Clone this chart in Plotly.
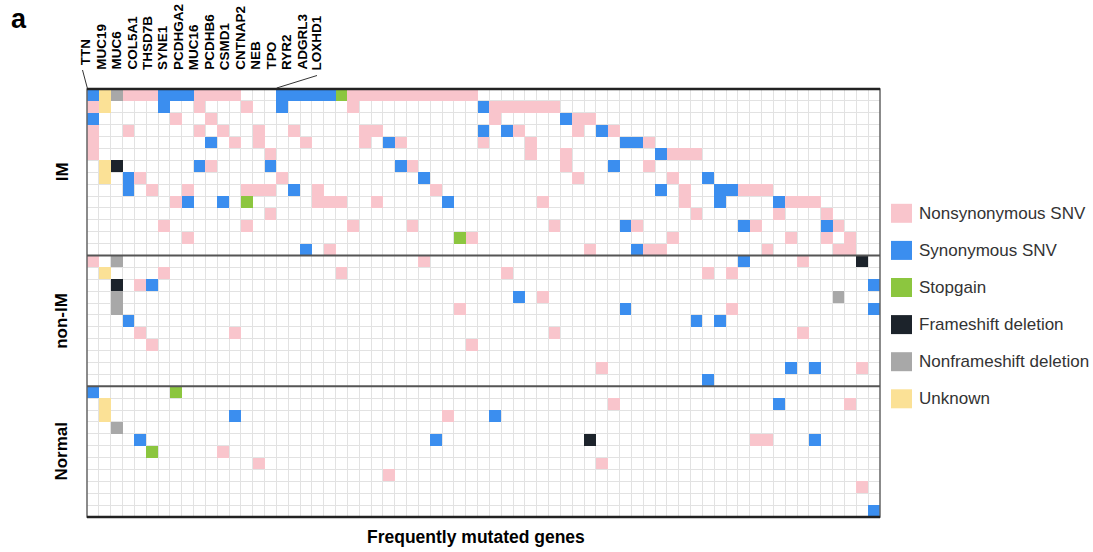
import plotly.graph_objects as go

# ---------------- data ----------------
labeled_genes = ["TTN", "MUC19", "MUC6", "COL5A1", "THSD7B", "SYNE1", "PCDHGA2", "MUC16",
                 "PCDHB6", "CSMD1", "CNTNAP2", "NEB", "TPO", "RYR2", "ADGRL3", "LOXHD1"]
n_genes = 67
groups = ["IM", "non-IM", "Normal"]

mutation_types = ["Nonsynonymous SNV", "Synonymous SNV", "Stopgain",
                  "Frameshift deletion", "Nonframeshift deletion", "Unknown"]
type_codes = ["N", "S", "G", "F", "D", "U"]
type_colors = ["#F9C5CC", "#3B8EEF", "#8CC63F", "#1C232B", "#A8A8A8", "#FBE196"]

# each row: "<col or col-range><type code>" tokens (columns = genes, 0-based)
im_rows = [
    "0S 1U 2D 3-5N 6-8S 9-12N 16-20S 21G 22-32N",
    "0N 1U 6S 9N 13N 16S 22N 33S 34-39N",
    "0S 7N 10N 34N 40S 41-42N",
    "0N 3N 9N 11N 14N 17N 23-24N 33S 35S 36N 41N 43S 44N",
    "0N 10S 12N 14N 18N 23N 25S 26N 33N 37N 45-46S 47N",
    "0N 15N 37N 40N 48S 49-51N",
    "1U 2F 9S 10N 15S 26S 27N 40N 44S 47N",
    "1U 3S 4N 16N 28S 41N 49N 52S",
    "3S 5N 8N 13-15N 17S 19N 29N 48S 50N 53-54S 55-57N",
    "7N 8S 11S 13G 19-21N 24N 30S 38N 50N 53S 58S 59-61N",
    "15N 51N 58N 62N",
    "6N 13N 22N 27N 39N 45S 46N 55S 56N 62S 63N",
    "8N 31G 32N 49N 59N 62N 64N",
    "18S 20N 42N 46S 47-48N 57N 63-64N",
]
nonim_rows = [
    "0N 2D 28N 55S 60N 65F",
    "1U 6N 21N 35N 52N 54N",
    "2F 4N 5S 66S",
    "2D 36S 38N 63D",
    "2D 31N 45S 54N 66S",
    "3S 51S 53S",
    "4N 12N 39N 60N",
    "5N 32N",
    "",
    "43N 59S 61S 65N",
    "52S",
]
normal_rows = [
    "0S 7G",
    "1U 44N 58S 64N",
    "1U 12S 30N 34S",
    "2D",
    "4S 29S 42F 56-57N 61S",
    "5G 11N",
    "14N 43N",
    "25N",
    "65N",
    "",
    "66S",
]

# ---------------- build matrix ----------------
all_rows = im_rows + nonim_rows + normal_rows
n_rows = len(all_rows)
z = [[None] * n_genes for _ in range(n_rows)]
for r, spec in enumerate(all_rows):
    for tok in spec.split():
        code = tok[-1]
        rng = tok[:-1]
        if "-" in rng:
            a, b = rng.split("-")
            cols = range(int(a), int(b) + 1)
        else:
            cols = [int(rng)]
        for c in cols:
            z[r][c] = type_codes.index(code) + 1

ntyp = len(type_colors)
colorscale = []
for i, col in enumerate(type_colors):
    colorscale.append([i / ntyp, col])
    colorscale.append([(i + 1) / ntyp, col])

W, H = 1093, 552
ML, MR, MT, MB = 87, 213, 89, 35
PW, PH = W - ML - MR, H - MT - MB


def xp(px):
    return (px - ML) / PW


def yp(py):
    return 1 - (py - MT) / PH


fig = go.Figure()
fig.add_trace(go.Heatmap(
    z=z, x=list(range(n_genes)), y=list(range(n_rows)),
    colorscale=colorscale, zmin=0.5, zmax=ntyp + 0.5,
    showscale=False, hoverinfo="skip", zsmooth=False,
))

FONT = "Liberation Sans, Arial, Helvetica, sans-serif"

fig.update_layout(
    width=W, height=H,
    margin=dict(l=ML, r=MR, t=MT, b=MB),
    paper_bgcolor="white", plot_bgcolor="white",
    showlegend=False,
    font=dict(family=FONT, color="black"),
    xaxis=dict(range=[-0.5, n_genes - 0.5], tick0=-0.5, dtick=1, showgrid=True,
               gridcolor="#E2E2E2", gridwidth=1, showticklabels=False, ticks="",
               zeroline=False, showline=False, fixedrange=True),
    yaxis=dict(range=[n_rows - 0.5, -0.5], tick0=-0.5, dtick=1, showgrid=True,
               gridcolor="#E2E2E2", gridwidth=1, showticklabels=False, ticks="",
               zeroline=False, showline=False, fixedrange=True),
)

shapes = []
# frame
shapes.append(dict(type="rect", xref="paper", yref="paper", x0=0, x1=1, y0=0, y1=1,
                   line=dict(color="#666666", width=1.5)))
shapes.append(dict(type="line", xref="paper", yref="paper", x0=0, x1=1, y0=1, y1=1,
                   line=dict(color="#222222", width=2.5)))
shapes.append(dict(type="line", xref="paper", yref="paper", x0=0, x1=1, y0=0, y1=0,
                   line=dict(color="#222222", width=2.5)))
# group separators
sizes = [len(im_rows), len(nonim_rows), len(normal_rows)]
acc = 0
centers = []
for s in sizes:
    centers.append(acc + (s - 1) / 2)
    acc += s
    if acc < n_rows:
        shapes.append(dict(type="line", xref="paper", yref="y", x0=0, x1=1,
                           y0=acc - 0.5, y1=acc - 0.5,
                           line=dict(color="#555555", width=2)))

# leader lines for gene labels
shapes.append(dict(type="line", xref="paper", yref="paper",
                   x0=xp(82.5), y0=yp(70), x1=xp(87.3), y1=yp(88),
                   line=dict(color="#333333", width=1)))
shapes.append(dict(type="line", xref="paper", yref="paper",
                   x0=xp(276.7), y0=yp(88), x1=xp(317), y1=yp(75.5),
                   line=dict(color="#333333", width=1)))

annotations = []
# gene labels
for i, g in enumerate(labeled_genes):
    px = 85.2 + i * 15.45
    bottom = 67 if i == 0 else 72
    annotations.append(dict(text=g, xref="paper", yref="paper", x=xp(px), y=yp(bottom),
                            xanchor="center", yanchor="bottom", textangle=-90,
                            showarrow=False,
                            font=dict(family=FONT, size=13.5, color="black", weight="bold")))

# group labels
for g, c in zip(groups, centers):
    annotations.append(dict(text=g, xref="paper", yref="y", x=xp(62), y=c,
                            xanchor="center", yanchor="middle", textangle=-90,
                            showarrow=False,
                            font=dict(family=FONT, size=17, color="black", weight="bold")))

# x title
annotations.append(dict(text="Frequently mutated genes", xref="paper", yref="paper",
                        x=xp(476), y=yp(537), xanchor="center", yanchor="middle",
                        showarrow=False,
                        font=dict(family=FONT, size=17.5, color="black", weight="bold")))

# panel letter
annotations.append(dict(text="a", xref="paper", yref="paper", x=xp(19), y=yp(19),
                        xanchor="center", yanchor="middle", showarrow=False,
                        font=dict(family=FONT, size=27, color="black", weight="bold")))

# legend
for i, (name, col) in enumerate(zip(mutation_types, type_colors)):
    cy = 213.3 + i * 37.1
    shapes.append(dict(type="rect", xref="paper", yref="paper",
                       x0=xp(891), x1=xp(912), y0=yp(cy - 9.5), y1=yp(cy + 9.5),
                       fillcolor=col, line=dict(width=0)))
    annotations.append(dict(text=name, xref="paper", yref="paper", x=xp(917), y=yp(cy),
                            xanchor="left", yanchor="middle", showarrow=False,
                            font=dict(family=FONT, size=17, color="#333333")))

fig.update_layout(shapes=shapes, annotations=annotations)
fig.write_html("out.html")
